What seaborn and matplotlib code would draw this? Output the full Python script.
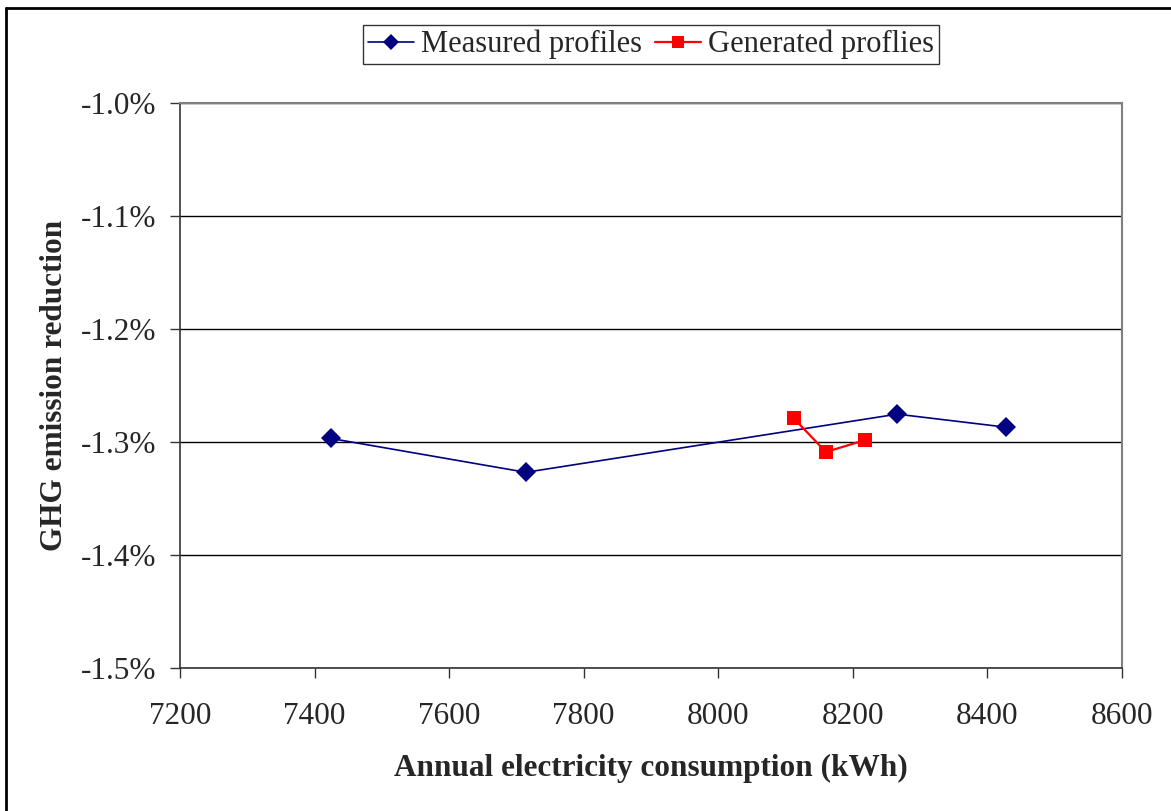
import numpy as np
import pandas as pd
import matplotlib
matplotlib.use("Agg")
import matplotlib.pyplot as plt
import seaborn as sns
from matplotlib.ticker import PercentFormatter, MultipleLocator
from matplotlib.lines import Line2D

# Dados
consumo_medido = [7424, 7714, 8266, 8427]
reducao_medido = [-1.297, -1.327, -1.2755, -1.287]
consumo_gerado = [8112, 8160, 8218]
reducao_gerado = [-1.279, -1.309, -1.2985]

rotulo_medido = "Measured profiles"
rotulo_gerado = "Generated proflies"

medido = pd.DataFrame({"consumo": consumo_medido, "reducao": reducao_medido})
gerado = pd.DataFrame({"consumo": consumo_gerado, "reducao": reducao_gerado})

sns.set_theme(style="white")
plt.rcParams["font.family"] = ["Liberation Serif", "DejaVu Serif"]
plt.rcParams["axes.unicode_minus"] = False

fig = plt.figure(figsize=(11.71, 8.11), dpi=100)
ax = fig.add_axes([0.1537, 0.1767, 0.8044, 0.6963])

sns.lineplot(data=medido, x="consumo", y="reducao", color="#000080", marker="D",
             markersize=10, markeredgewidth=0, linewidth=1.2, sort=False,
             label=rotulo_medido, ax=ax)
sns.lineplot(data=gerado, x="consumo", y="reducao", color="#FF0000", marker="s",
             markersize=10, markeredgewidth=0, linewidth=1.6, sort=False,
             label=rotulo_gerado, ax=ax)

ax.set_xlim(7200, 8600)
ax.set_ylim(-1.5, -1.0)
ax.xaxis.set_major_locator(MultipleLocator(200))
ax.yaxis.set_major_locator(MultipleLocator(0.1))
ax.yaxis.set_major_formatter(PercentFormatter(decimals=1))

ax.grid(axis="y", color="black", linewidth=1)
ax.grid(axis="x", visible=False)
ax.set_axisbelow(True)

for lado in ["top", "right"]:
    ax.spines[lado].set_color("#808080")
    ax.spines[lado].set_linewidth(1.5)
for lado in ["left", "bottom"]:
    ax.spines[lado].set_color("#333333")
    ax.spines[lado].set_linewidth(1.2)

ax.tick_params(axis="both", direction="out", length=7, width=1, color="#333333",
               labelsize=22.5, bottom=True, left=True)
ax.tick_params(axis="x", pad=18)
ax.tick_params(axis="y", pad=10)

ax.set_xlabel("Annual electricity consumption (kWh)", fontsize=22.5, fontweight="bold", va="center")
ax.set_ylabel("GHG emission reduction", fontsize=22.5, fontweight="bold", va="center")
ax.xaxis.set_label_coords(0.5, -0.1776)
ax.yaxis.set_label_coords(-0.1327, 0.5)

leg = ax.legend(loc="upper center", bbox_to_anchor=(0.556, 0.969),
                bbox_transform=fig.transFigure, ncol=2, frameon=True,
                fancybox=False, edgecolor="black", fontsize=22,
                handlelength=1.5, handletextpad=0.25, columnspacing=0.4,
                borderpad=0.15, borderaxespad=0, markerscale=0.85)
leg.get_frame().set_linewidth(1.0)

# Borda da área do gráfico (esquerda e topo)
fig.add_artist(Line2D([6 / 1171, 6 / 1171], [0, 1 - 8 / 811], transform=fig.transFigure,
                      color="black", linewidth=2))
fig.add_artist(Line2D([6 / 1171, 1], [1 - 8 / 811, 1 - 8 / 811], transform=fig.transFigure,
                      color="black", linewidth=2))

fig.savefig("out.png", dpi=100)
